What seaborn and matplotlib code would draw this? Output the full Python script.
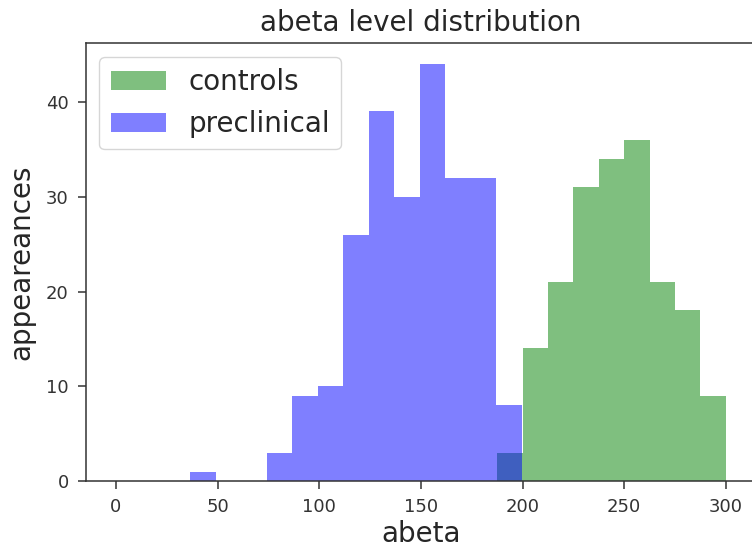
import numpy as np
import matplotlib
matplotlib.use("Agg")
import matplotlib.pyplot as plt
import seaborn as sns

# ─── data ─────────────────────────────────────────────────────────────────────
controls_edges = [187.5, 200.0, 212.5, 225.0, 237.5, 250.0, 262.5, 275.0, 287.5, 300.0]
controls_counts = [3, 14, 21, 31, 34, 36, 21, 18, 9]

preclinical_edges = [36.5, 49.0, 61.6, 74.1, 86.7, 99.2, 111.7, 124.3,
                     136.8, 149.4, 161.9, 174.4, 187.0, 199.5]
preclinical_counts = [1, 0, 0, 3, 9, 10, 26, 39, 30, 44, 32, 32, 8]

x_ticks = [0, 50, 100, 150, 200, 250, 300]
y_ticks = [0, 10, 20, 30, 40]


def centers(edges):
    e = np.asarray(edges)
    return (e[:-1] + e[1:]) / 2


fig = plt.figure(figsize=(7.52, 5.52), dpi=100)
ax = fig.add_axes([0.1137, 0.1286, 0.892, 0.793])

sns.histplot(x=centers(controls_edges), weights=controls_counts, bins=controls_edges,
             color="g", alpha=0.5, edgecolor="none", linewidth=0,
             label="controls", ax=ax)
sns.histplot(x=centers(preclinical_edges), weights=preclinical_counts, bins=preclinical_edges,
             color="b", alpha=0.5, edgecolor="none", linewidth=0,
             label="preclinical", ax=ax)

ax.set_xlim(-15, 315)
ax.set_ylim(0, 46.2)
ax.set_xticks(x_ticks)
ax.set_yticks(y_ticks)
ax.tick_params(labelsize=13, colors="#333333", length=6, width=1.1, pad=6)
for s in ax.spines.values():
    s.set_color("#333333")
    s.set_linewidth(1.1)
ax.set_title("abeta level distribution", fontsize=20, color="#262626", pad=9)
ax.set_xlabel("abeta", fontsize=20, color="#262626", labelpad=3)
ax.set_ylabel("appeareances", fontsize=20, color="#262626", labelpad=8)
leg = ax.legend(loc="upper left", fontsize=20)
for t in leg.get_texts():
    t.set_color("#262626")

fig.savefig("out.png", dpi=100)
